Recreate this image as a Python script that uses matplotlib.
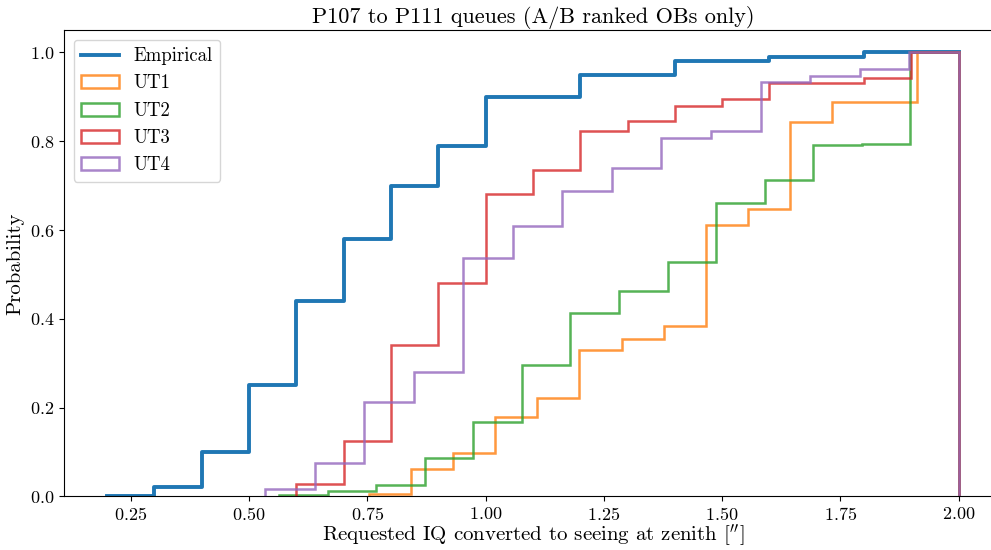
import matplotlib

matplotlib.use("Agg")
import matplotlib.pyplot as plt
import numpy as np

plt.rcParams["font.family"] = "serif"
plt.rcParams["font.serif"] = ["cmr10"]
plt.rcParams["mathtext.fontset"] = "cm"
plt.rcParams["axes.formatter.use_mathtext"] = True

# empirical cumulative distribution
emp_x = [0.2, 0.3, 0.4, 0.5, 0.6, 0.7, 0.8, 0.9, 1.0, 1.2, 1.4, 1.6, 1.8, 2.0]
emp_y = [0.0, 0.02, 0.10, 0.25, 0.44, 0.58, 0.70, 0.79, 0.90, 0.95, 0.98, 0.99, 1.0, 1.0]

# per telescope: lowest bin edge (all histograms run to 2.0 in 14 bins)
ut_names = ["UT1", "UT2", "UT3", "UT4"]
ut_low = [0.753, 0.564, 0.600, 0.534]
ut_high = 2.0
n_bins = 14

# cumulative probability per bin
ut1_cum = [0.005, 0.061, 0.097, 0.178, 0.222, 0.329, 0.355, 0.384, 0.612, 0.648, 0.844, 0.889, 0.889, 1.0]
ut2_cum = [0.003, 0.012, 0.026, 0.086, 0.167, 0.297, 0.412, 0.462, 0.529, 0.661, 0.713, 0.791, 0.794, 1.0]
ut3_cum = [0.027, 0.125, 0.340, 0.480, 0.682, 0.735, 0.824, 0.846, 0.879, 0.896, 0.931, 0.932, 0.942, 1.0]
ut4_cum = [0.017, 0.076, 0.212, 0.280, 0.537, 0.610, 0.687, 0.740, 0.808, 0.824, 0.934, 0.948, 0.962, 1.0]
ut_cum = [ut1_cum, ut2_cum, ut3_cum, ut4_cum]
ut_colors = ["tab:orange", "tab:green", "tab:red", "tab:purple"]

fig = plt.figure(figsize=(9.91, 5.5), dpi=100)
ax = fig.add_axes([0.0649, 0.0975, 0.9456, 0.8475])

ax.step(emp_x, emp_y, where="post", color="tab:blue", lw=2.8, label="Empirical")

for name, low, cum, color in zip(ut_names, ut_low, ut_cum, ut_colors):
    edges = np.linspace(low, ut_high, n_bins + 1)
    ax.hist(edges[:-1], bins=edges, weights=cum, histtype="step",
            color=color, lw=1.8, alpha=0.8, label=name)

ax.set_xlim(0.11, 2.09)
ax.set_ylim(0, 1.05)
ax.set_xticks([0.25, 0.5, 0.75, 1.0, 1.25, 1.5, 1.75, 2.0])
ax.tick_params(labelsize=13)
ax.set_xlabel(r"Requested IQ converted to seeing at zenith [$^{\prime\prime}$]", fontsize=15, labelpad=0)
ax.set_ylabel("Probability", fontsize=15, labelpad=4)
ax.set_title("P107 to P111 queues (A/B ranked OBs only)", fontsize=16, pad=5)
ax.legend(loc="upper left", fontsize=13.5)

fig.savefig("out.png", dpi=100)
plt.close(fig)
